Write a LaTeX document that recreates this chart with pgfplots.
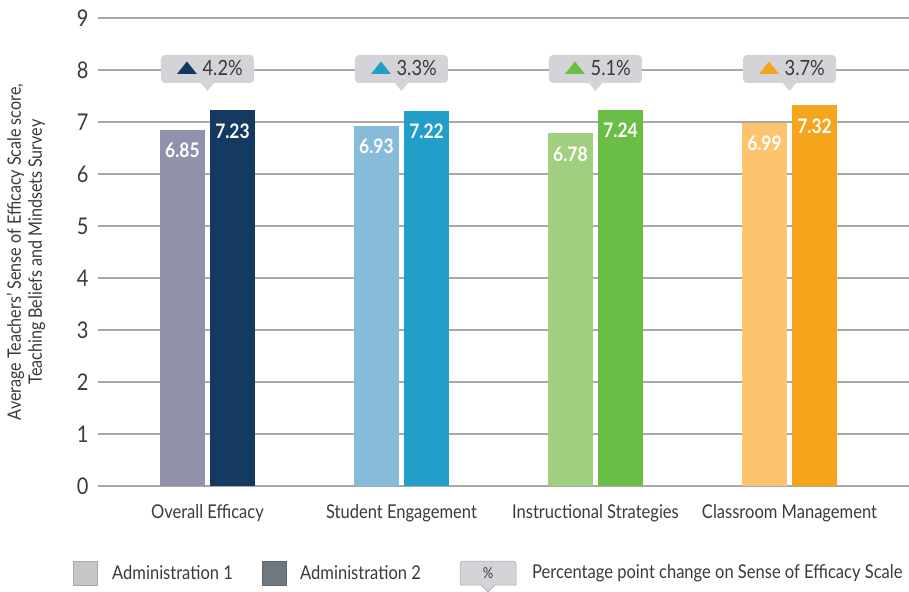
\documentclass[border=0pt]{standalone}
\usepackage{pgfplots}
\pgfplotsset{compat=1.18}
\usepackage{fontspec}
\setmainfont{Lato}[FakeStretch=0.87]
\usetikzlibrary{calc}
\definecolor{ca}{HTML}{9191AC}
\definecolor{cb}{HTML}{143A62}
\definecolor{cc}{HTML}{87BBDA}
\definecolor{cd}{HTML}{219FC9}
\definecolor{ce}{HTML}{A0D07F}
\definecolor{cf}{HTML}{6ABD45}
\definecolor{cg}{HTML}{FEC46D}
\definecolor{ch}{HTML}{F5A51C}
\definecolor{gridgray}{HTML}{A8A8A8}
\definecolor{callgray}{HTML}{D4D4D8}
\definecolor{txt}{HTML}{3A3A3A}
\definecolor{leg1}{HTML}{C6C6C8}
\definecolor{leg2}{HTML}{6E7881}
\begin{document}
\begin{tikzpicture}[font=\fontsize{16}{19}\selectfont, text=txt]
\begin{axis}[
  at={(0,0)}, anchor=south west,
  scale only axis, width=811pt, height=468pt,
  xmin=-0.564, xmax=3.616, ymin=0, ymax=9,
  ytick={0,...,9}, ymajorgrids,
  grid style={draw=gridgray, line width=1.2pt},
  axis line style={draw=none}, major tick length=0pt,
  xtick={0,1,2,3},
  xticklabels={Overall Efficacy, Student Engagement, Instructional Strategies, Classroom Management},
  xticklabel style={font=\fontsize{19}{22}\selectfont, text=txt, yshift=-15pt},
  yticklabel style={font=\fontsize{23}{26}\selectfont, text=txt, xshift=-6pt},
  /pgf/number format/assume math mode=true,
  ybar, bar width=0.232, bar shift=0pt,
  nodes near coords={\pgfmathprintnumber[fixed,zerofill,precision=2,assume math mode=true]{\pgfplotspointmeta}},
  every node near coord/.append style={anchor=north, yshift=-10pt, text=white, font=\bfseries\fontsize{20}{22}\selectfont},
  clip=false,
]
\addplot[fill=ca, draw=none] coordinates {(-0.129,6.85)};
\addplot[fill=cb, draw=none] coordinates {(0.129,7.23)};
\addplot[fill=cc, draw=none] coordinates {(0.871,6.93)};
\addplot[fill=cd, draw=none] coordinates {(1.129,7.22)};
\addplot[fill=ce, draw=none] coordinates {(1.871,6.78)};
\addplot[fill=cf, draw=none] coordinates {(2.129,7.24)};
\addplot[fill=cg, draw=none] coordinates {(2.871,6.99)};
\addplot[fill=ch, draw=none] coordinates {(3.129,7.32)};
\pgfplotsinvokeforeach{0,...,3}{\coordinate (g#1) at (axis cs:#1,0);}
\end{axis}
% callouts
\foreach \i/\c/\v in {0/cb/4.2,1/cd/3.3,2/cf/5.1,3/ch/3.7}{
  \fill[callgray, rounded corners=4pt] ($(g\i)+(-46.5pt,403pt)$) rectangle ($(g\i)+(46.5pt,431pt)$);
  \fill[callgray] ($(g\i)+(-7pt,403.5pt)$) -- ($(g\i)+(7pt,403.5pt)$) -- ($(g\i)+(0pt,395pt)$) -- cycle;
  \fill[\c] ($(g\i)+(-30.5pt,412pt)$) -- ($(g\i)+(-10.5pt,412pt)$) -- ($(g\i)+(-20.5pt,424.5pt)$) -- cycle;
  \node[anchor=west, inner sep=0pt, font=\fontsize{21}{24}\selectfont] at ($(g\i)+(-5pt,418pt)$) {\v\%};
}
% y label
\node[rotate=90, align=center, font=\fontsize{18.5}{21}\selectfont] at (-72pt,234pt)
  {Average Teachers' Sense of Efficacy Scale score,\\Teaching Beliefs and Mindsets Survey};
% legend
\fill[leg1, draw=gridgray, line width=0.6pt] (-25pt,-75pt) rectangle (-1pt,-99pt);
\node[anchor=west, inner sep=0pt, font=\fontsize{19}{22}\selectfont] at (14pt,-87pt) {Administration 1};
\fill[leg2, draw=gray!80!black, line width=0.6pt] (164pt,-75pt) rectangle (188pt,-99pt);
\node[anchor=west, inner sep=0pt, font=\fontsize{19}{22}\selectfont] at (202pt,-87pt) {Administration 2};
\fill[callgray, draw=gray!70, line width=0.5pt] (390pt,-106pt) -- (383pt,-99pt) -- (362pt,-99pt) [rounded corners=3pt]-- (362pt,-75pt) -- (418pt,-75pt) [sharp corners]-- (418pt,-99pt) -- (397pt,-99pt) -- cycle;
\node[font=\fontsize{15}{17}\selectfont] at (390pt,-87pt) {\%};
\node[anchor=west, inner sep=0pt, font=\fontsize{19}{22}\selectfont] at (434pt,-87pt) {Percentage point change on Sense of Efficacy Scale};
\pgfresetboundingbox
\path (-98pt,-105pt) rectangle (811pt,486pt);
\end{tikzpicture}
\end{document}
